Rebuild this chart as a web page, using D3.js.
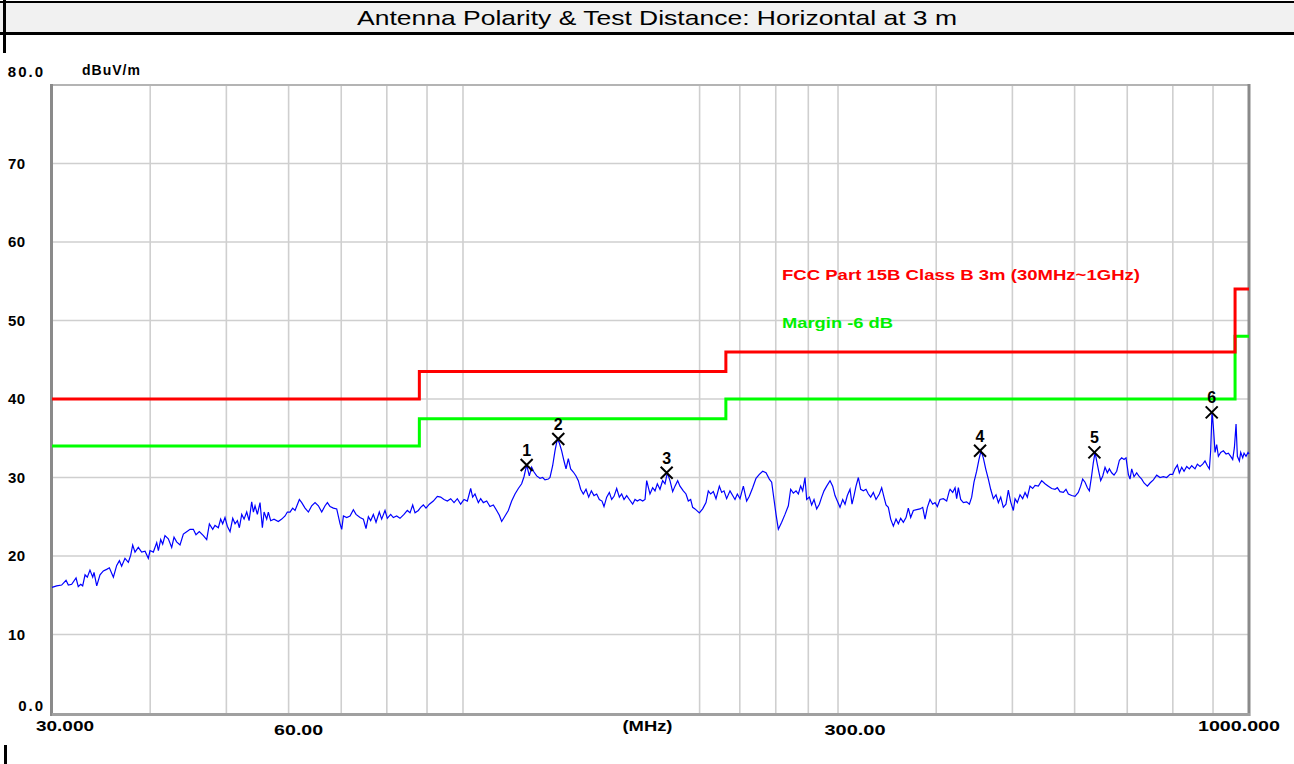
<!DOCTYPE html>
<html>
<head>
<meta charset="utf-8">
<script src="https://cdn.jsdelivr.net/npm/d3@7"></script>
<style>
  body { margin: 0; background: #fff; }
  svg text { font-family: "Liberation Sans", Arial, sans-serif; }
</style>
</head>
<body>
<div id="chart"></div>
<script>
// ---- DATA -----------------------------------------------------------------
var title = "Antenna Polarity & Test Distance: Horizontal at 3 m";
var unitLabel = "dBuV/m";

// y axis ticks (dBuV/m) and their labels
var yTicks = [0, 10, 20, 30, 40, 50, 60, 70, 80];
var yTickLabels = ["0.0", "10", "20", "30", "40", "50", "60", "70", "80.0"];

// vertical grid lines (MHz) and the labelled frequencies
var xGrid = [40, 50, 60, 70, 80, 90, 100, 200, 225, 250, 275, 300, 400, 500, 600, 700, 800, 900];
var xTickValues = [30, 60, 300, 1000];
var xTickLabels = ["30.000", "60.00", "300.00", "1000.000"];

// FCC Part 15B Class B limit (step after each frequency) and the -6 dB margin
var limitMHz = [30, 88, 216, 960, 1000];
var limitDb = [40, 43.5, 46, 54, 54];
var marginDb = [34, 37.5, 40, 48, 48];

// peak markers
var markerMHz = [120.5, 132.2, 181.6, 454.8, 635.8, 896.5];
var markerDb = [31.6, 34.9, 30.6, 33.4, 33.2, 38.3];

// measured trace
var traceMHz = [30.00,30.41,30.86,31.26,31.47,31.78,32.19,32.40,32.63,32.82,
  33.05,33.27,33.53,33.80,33.93,34.20,34.53,34.87,35.21,35.49,
  35.91,36.26,36.55,36.79,37.15,37.52,37.78,38.00,38.26,38.63,
  39.01,39.40,39.78,39.98,40.37,40.77,40.97,41.25,41.49,41.77,
  42.18,42.60,42.89,43.22,43.65,44.08,44.51,44.95,45.39,45.74,
  46.19,46.74,47.20,47.57,48.04,48.36,48.84,49.17,49.46,49.80,
  50.14,50.54,50.94,51.29,51.64,51.94,52.30,52.66,53.07,53.44,
  53.85,54.12,54.38,54.75,55.18,55.56,55.84,56.27,56.54,56.93,
  57.49,58.22,58.80,59.38,59.78,60.25,60.72,61.14,61.92,62.35,
  62.96,63.58,64.20,64.83,65.47,66.11,66.76,67.22,67.75,68.41,
  69.08,69.76,70.10,70.45,71.13,
  71.83,72.53,73.10,73.96,74.69,75.27,75.79,76.30,76.90,77.51,
  78.26,78.80,79.58,80.12,80.91,81.54,82.34,83.15,84.13,84.95,
  85.63,86.30,86.89,87.74,88.34,89.03,89.73,90.61,91.68,92.76,
  93.67,94.59,95.52,96.46,97.41,98.36,99.32,100.30,101.28,102.28,
  102.87,103.58,104.60,105.32,106.14,107.19,108.23,109.30,110.37,111.24,
  112.00,113.10,114.20,115.33,116.46,117.60,118.75,119.57,120.50,121.45,
  122.29,123.12,124.09,125.31,126.29,127.15,128.40,129.03,130.04,130.93,
  131.84,132.61,133.52,134.44,135.23,136.15,137.08,138.16,139.25,140.20,
  141.16,142.26,143.39,144.52,145.65,146.79,147.94,149.09,150.26,151.15,
  152.34,153.53,154.58,155.65,156.87,158.10,159.17,160.28,161.53,162.80,
  164.39,165.52,166.65,167.96,169.29,170.45,171.28,
  172.94,174.31,175.50,176.70,178.08,179.48,180.72,181.95,183.38,184.82,
  186.09,187.55,188.83,190.69,192.18,193.49,194.83,195.97,197.32,199.85,
  201.80,203.78,205.17,206.59,208.21,209.84,211.91,213.36,214.81,216.49,
  218.63,220.34,221.84,223.38,225.13,227.35,229.56,231.36,233.64,235.94,
  238.24,240.59,242.95,245.32,247.02,248.71,250.18,251.89,254.37,256.85,
  259.38,261.15,263.19,265.28,267.09,268.91,270.51,272.35,273.69,275.83,
  277.71,279.64,281.83,284.04,285.97,287.95,290.21,293.07,295.36,297.38,
  299.41,301.75,304.15,306.22,308.31,310.73,312.56,314.41,316.24,318.43,
  320.60,323.12,325.65,327.90,330.14,332.72,335.33,338.63,340.94,343.27,
  345.30,347.65,350.06,352.80,355.56,357.99,360.47,363.29,366.14,368.63,
  371.19,374.09,377.78,381.46,384.45,387.11,389.75,392.80,395.88,398.62,
  401.34,404.48,408.47,412.45,415.68,
  416.6,419.8,422.7,424.7,426.8,429.7,433.1,437.3,440.8,443.8,
  446.8,450.3,453.4,456.1,459.2,462.4,466.0,469.2,472.9,476.6,
  479.9,483.2,486.9,490.7,494.1,497.5,501.4,503.9,507.3,511.3,
  515.3,518.9,522.4,526.5,530.6,534.3,539.5,544.8,550.1,555.6,
  561.0,566.5,570.4,574.8,580.5,585.0,589.1,594.8,600.7,606.5,
  610.7,614.3,618.6,622.8,626.5,630.8,633.8,637.0,640.1,643.8,
  647.6,651.5,655.9,660.4,664.3,668.8,673.4,678.7,684.1,688.7,
  693.4,697.5,702.3,705.7,709.2,714.0,719.6,725.3,730.3,735.3,
  742.5,748.3,755.7,763.1,770.6,778.1,785.7,793.5,799.7,805.1,
  810.7,815.4,821.1,826.7,833.2,839.7,845.5,853.7,859.6,866.4,
  873.2,879.1,885.2,890.4,893.8,897.3,900.8,905.3,909.7,914.2,
  920.4,927.6,935.0,941.4,947.8,953.4,958.1,962.8,966.5,972.2,
  976.0,981.8,985.6,991.3,997.2,1000.0];

var traceDb = [16.0,16.2,16.3,16.9,16.3,16.4,17.2,16.1,16.4,16.2,
  17.6,17.3,18.2,17.3,17.9,16.2,17.6,18.1,18.3,18.5,
  17.3,18.8,19.4,18.7,19.7,19.2,20.1,21.4,20.5,21.1,
  20.5,20.6,19.7,20.7,20.5,21.7,20.7,22.1,21.5,22.6,
  22.2,21.1,22.4,21.8,21.4,22.8,23.1,23.4,23.4,22.7,
  23.1,22.6,22.1,24.1,23.4,23.9,23.6,24.7,24.1,24.9,
  23.8,23.1,24.8,24.1,24.5,23.6,25.3,24.7,25.6,24.5,
  26.9,25.6,26.4,25.3,26.8,23.6,25.6,24.7,25.6,24.5,
  24.7,24.4,24.7,25.1,25.6,25.6,26.1,25.8,27.2,26.8,
  26.1,25.6,26.4,26.8,26.4,25.6,26.4,26.8,26.3,26.1,
  26.0,24.1,23.4,25.1,24.9,
  25.1,25.9,25.3,24.9,24.7,23.5,25.0,24.5,25.3,24.3,
  25.6,24.7,25.8,24.8,25.3,24.9,25.1,24.8,25.3,25.8,
  25.5,26.5,25.5,25.8,26.2,26.5,26.1,26.6,27.0,27.6,
  27.5,27.2,27.0,27.3,26.8,27.3,26.6,27.2,27.0,28.6,
  27.5,27.9,26.8,27.3,26.8,27.0,26.3,26.5,25.8,25.2,
  24.4,25.1,25.8,27.0,27.9,28.6,29.2,30.1,31.6,30.2,
  31.3,30.7,30.2,29.9,30.0,29.7,29.8,30.0,31.5,33.4,
  34.9,34.4,33.4,32.1,31.1,32.4,31.1,30.7,30.2,29.6,
  28.5,27.9,28.5,27.5,28.3,27.7,27.9,27.2,27.0,26.3,
  27.5,28.1,27.2,27.6,28.6,27.5,27.9,27.2,27.7,27.2,
  26.6,27.2,27.0,27.2,27.0,27.2,29.6,
  27.9,28.7,28.3,29.2,28.5,29.6,29.2,30.6,29.6,28.2,
  28.9,29.6,28.9,28.3,27.9,27.0,27.2,26.2,26.0,25.5,
  26.0,26.8,28.3,27.9,28.2,27.3,28.9,28.1,28.3,27.3,
  28.3,27.7,27.2,27.9,27.3,28.9,27.0,27.6,28.7,29.9,
  30.4,30.8,30.6,29.8,29.4,27.2,25.3,23.4,24.3,25.3,
  26.4,28.5,28.0,28.3,27.9,28.9,28.3,30.0,27.2,27.5,
  26.5,27.2,26.0,26.6,27.5,28.3,28.9,29.6,28.9,27.7,
  27.0,26.2,27.2,26.6,27.7,28.5,26.6,27.7,28.9,30.0,
  28.5,28.3,28.5,27.9,27.5,28.1,27.2,27.9,28.7,27.5,
  26.5,26.2,24.7,23.8,24.7,24.1,24.8,24.3,24.9,26.1,
  24.9,25.8,25.9,26.0,26.2,24.7,26.2,27.2,26.6,26.8,
  26.3,27.2,27.3,27.0,28.3,
  28.5,28.1,28.7,27.3,28.7,27.2,26.8,26.9,26.6,27.5,
  29.4,30.8,32.3,33.4,32.5,31.1,29.8,28.5,27.3,27.8,
  26.8,27.5,26.2,26.6,28.4,26.9,25.8,27.3,26.8,27.8,
  27.3,28.1,27.5,28.9,28.6,29.0,28.9,29.6,29.2,28.9,
  28.6,28.5,28.7,28.2,28.1,28.5,27.9,27.7,27.6,28.1,
  28.9,29.8,29.4,28.7,28.3,30.3,31.9,33.2,32.1,30.8,
  29.6,30.2,31.3,30.6,31.1,30.6,30.3,30.8,32.2,32.5,
  32.3,32.5,30.4,29.8,31.1,30.1,30.6,30.1,29.8,29.3,
  28.9,29.3,29.7,30.3,30.0,30.1,30.0,30.4,30.4,31.1,
  31.6,30.6,31.3,30.8,31.4,31.1,31.5,31.1,31.7,31.4,
  31.7,32.1,31.5,31.1,33.4,38.3,36.5,33.2,34.2,32.7,
  33.2,33.4,33.0,33.1,32.7,32.3,33.8,36.8,32.7,32.1,
  33.2,32.5,33.1,32.7,33.2,33.0];

// ---- DRAWING --------------------------------------------------------------
var width = 1294, height = 764;

var svg = d3.select("#chart")
    .append("svg")
    .attr("width", width)
    .attr("height", height);

// plot frame
var plot = {left: 52, right: 1249, top: 85, bottom: 713};

var x = d3.scaleLog().domain([30, 1000]).range([plot.left, plot.right]);
var y = d3.scaleLinear().domain([0, 80]).range([plot.bottom, plot.top]);

// Title bar on top of the page
svg.append("rect")
    .attr("x", 0).attr("y", 2)
    .attr("width", width).attr("height", 31)
    .style("fill", "#f1f1f1");
svg.append("line")
    .attr("x1", 0).attr("x2", width).attr("y1", 2).attr("y2", 2)
    .style("stroke", "#000").style("stroke-width", 2);
svg.append("line")
    .attr("x1", 0).attr("x2", width).attr("y1", 33.5).attr("y2", 33.5)
    .style("stroke", "#000").style("stroke-width", 3);
svg.append("line")
    .attr("x1", 4.5).attr("x2", 4.5).attr("y1", 0).attr("y2", 53)
    .style("stroke", "#000").style("stroke-width", 3);
svg.append("line")
    .attr("x1", 5.5).attr("x2", 5.5).attr("y1", 745).attr("y2", height)
    .style("stroke", "#000").style("stroke-width", 3);
svg.append("text")
    .attr("x", 657).attr("y", 25)
    .attr("text-anchor", "middle")
    .attr("textLength", 600).attr("lengthAdjust", "spacingAndGlyphs")
    .style("font-size", "21px")
    .text(title);

// grid
svg.append("g").selectAll("line")
    .data(xGrid)
    .enter().append("line")
    .attr("x1", d => x(d)).attr("x2", d => x(d))
    .attr("y1", plot.top).attr("y2", plot.bottom)
    .style("stroke", "#cfcfcf").style("stroke-width", 1.6);

svg.append("g").selectAll("line")
    .data(yTicks.filter(d => d > 0 && d < 80))
    .enter().append("line")
    .attr("x1", plot.left).attr("x2", plot.right)
    .attr("y1", d => y(d)).attr("y2", d => y(d))
    .style("stroke", "#cfcfcf").style("stroke-width", 1.6);

// frame, the top edge is lighter than the others
svg.append("line")
    .attr("x1", plot.left).attr("x2", plot.right).attr("y1", plot.top).attr("y2", plot.top)
    .style("stroke", "#b4b4b4").style("stroke-width", 2);
svg.append("line")
    .attr("x1", plot.left - 0.5).attr("x2", plot.left - 0.5).attr("y1", plot.top - 1).attr("y2", plot.bottom + 3)
    .style("stroke", "#8a8a8a").style("stroke-width", 3);
svg.append("line")
    .attr("x1", plot.right).attr("x2", plot.right).attr("y1", plot.top - 1).attr("y2", plot.bottom + 3)
    .style("stroke", "#8a8a8a").style("stroke-width", 3);
svg.append("line")
    .attr("x1", plot.left).attr("x2", plot.right + 1).attr("y1", plot.bottom + 1.5).attr("y2", plot.bottom + 1.5)
    .style("stroke", "#a0a0a0").style("stroke-width", 3);

// y labels: the end values sit above their grid lines and end at x=45
var isEnd = d => d == 0 || d == 80;
svg.append("g").selectAll("text")
    .data(yTicks)
    .enter().append("text")
    .attr("x", d => isEnd(d) ? 45 : 8)
    .attr("y", d => d == 80 ? y(d) - 13 : (d == 0 ? y(d) - 7 : y(d)))
    .attr("dy", "0.36em")
    .attr("text-anchor", d => isEnd(d) ? "end" : "start")
    .style("font-size", "15px").style("font-weight", "bold").style("letter-spacing", d => isEnd(d) ? "2px" : "0.5px")
    .text((d, i) => yTickLabels[i]);

svg.append("text")
    .attr("x", 82).attr("y", 75)
    .style("font-size", "14px").style("font-weight", "bold").style("letter-spacing", "1px")
    .text(unitLabel);

// x labels
var xLabelShift = [13, 10, 17, -10];
var xLabelY = [731, 735, 735, 731];
var xLabelWidth = [58, 49, 61, 82];
svg.append("g").selectAll("text")
    .data(xTickValues)
    .enter().append("text")
    .attr("x", (d, i) => x(d) + xLabelShift[i])
    .attr("y", (d, i) => xLabelY[i])
    .attr("text-anchor", "middle")
    .attr("textLength", (d, i) => xLabelWidth[i]).attr("lengthAdjust", "spacingAndGlyphs")
    .style("font-size", "15px").style("font-weight", "bold")
    .text((d, i) => xTickLabels[i]);
svg.append("text")
    .attr("x", (plot.left + plot.right) / 2 - 3).attr("y", 731)
    .attr("text-anchor", "middle")
    .attr("textLength", 50).attr("lengthAdjust", "spacingAndGlyphs")
    .style("font-size", "15px").style("font-weight", "bold")
    .text("(MHz)");

// limit and margin lines
var step = d3.line()
    .x(d => x(d[0]))
    .y(d => y(d[1]))
    .curve(d3.curveStepAfter);

svg.append("path")
    .datum(limitMHz.map((f, i) => [f, marginDb[i]]))
    .attr("d", step)
    .style("fill", "none").style("stroke", "#00ff00").style("stroke-width", 3);

svg.append("path")
    .datum(limitMHz.map((f, i) => [f, limitDb[i]]))
    .attr("d", step)
    .style("fill", "none").style("stroke", "#ff0000").style("stroke-width", 3);

svg.append("text")
    .attr("x", 782).attr("y", 280)
    .attr("textLength", 358).attr("lengthAdjust", "spacingAndGlyphs")
    .style("font-size", "15px").style("font-weight", "bold")
    .style("fill", "#ff0000")
    .text("FCC Part 15B Class B 3m (30MHz~1GHz)");
svg.append("text")
    .attr("x", 782).attr("y", 328)
    .attr("textLength", 111).attr("lengthAdjust", "spacingAndGlyphs")
    .style("font-size", "15px").style("font-weight", "bold")
    .style("fill", "#00f000")
    .text("Margin -6 dB");

// the measured trace
var trace = d3.line()
    .x(d => x(d[0]))
    .y(d => y(d[1]));

svg.append("path")
    .datum(traceMHz.map((f, i) => [f, traceDb[i]]))
    .attr("d", trace)
    .style("fill", "none").style("stroke", "#0000ff").style("stroke-width", 1.2);

// markers: a cross with its number above
var marker = svg.append("g").selectAll("g")
    .data(markerMHz)
    .enter().append("g")
    .attr("transform", (d, i) => "translate(" + x(d) + "," + y(markerDb[i]) + ")");

marker.append("path")
    .attr("d", "M-6,-6L6,6M6,-6L-6,6")
    .style("stroke", "#000").style("stroke-width", 2);

marker.append("text")
    .attr("y", -9)
    .attr("text-anchor", "middle")
    .style("font-size", "16px").style("font-weight", "bold")
    .text((d, i) => i + 1);
</script>
</body>
</html>
